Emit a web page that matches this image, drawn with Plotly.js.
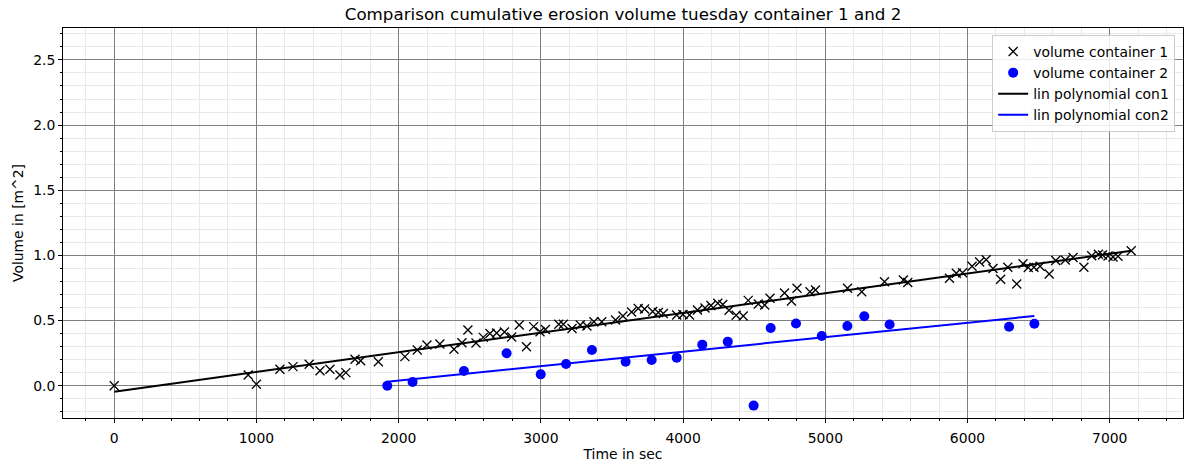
<!DOCTYPE html>
<html>
<head>
<meta charset="utf-8">
<script src="https://cdn.plot.ly/plotly-3.0.1.min.js"></script>
<style>html,body{margin:0;padding:0;background:#fff;}#chart{width:1189px;height:466px;}</style>
</head>
<body>
<div id="chart"></div>
<script>
// Container 1 (time in sec, volume)
const time1 = [0, 942, 1000, 1165, 1257, 1371, 1447, 1517, 1587, 1629, 1693, 1733, 1857, 2044, 2131, 2199, 2290, 2389, 2445, 2487, 2544, 2595, 2642, 2689, 2744, 2795, 2848, 2899, 2949, 2994, 3032, 3126, 3158, 3219, 3277, 3324, 3373, 3428, 3525, 3577, 3638, 3685, 3729, 3786, 3826, 3861, 3955, 3999, 4045, 4101, 4154, 4196, 4244, 4279, 4323, 4373, 4423, 4458, 4529, 4574, 4611, 4713, 4762, 4801, 4892, 4931, 5156, 5256, 5416, 5549, 5580, 5873, 5921, 5965, 6032, 6085, 6131, 6179, 6233, 6283, 6346, 6390, 6427, 6467, 6510, 6574, 6620, 6687, 6742, 6818, 6873, 6920, 6949, 6988, 7023, 7058, 7151];
const vol1 = [0.0, 0.082, 0.011, 0.126, 0.146, 0.164, 0.115, 0.126, 0.082, 0.100, 0.203, 0.192, 0.184, 0.223, 0.274, 0.312, 0.320, 0.279, 0.330, 0.427, 0.328, 0.371, 0.401, 0.404, 0.412, 0.374, 0.466, 0.299, 0.453, 0.414, 0.431, 0.472, 0.472, 0.439, 0.466, 0.458, 0.491, 0.491, 0.504, 0.535, 0.566, 0.592, 0.589, 0.569, 0.562, 0.554, 0.543, 0.546, 0.543, 0.581, 0.596, 0.616, 0.632, 0.623, 0.579, 0.540, 0.535, 0.655, 0.627, 0.619, 0.671, 0.711, 0.650, 0.748, 0.721, 0.734, 0.748, 0.721, 0.798, 0.811, 0.792, 0.824, 0.863, 0.867, 0.916, 0.949, 0.967, 0.899, 0.817, 0.909, 0.781, 0.936, 0.907, 0.909, 0.916, 0.857, 0.961, 0.965, 0.984, 0.909, 0.997, 1.009, 1.003, 0.995, 0.988, 0.993, 1.036];

// Container 2
const time2 = [1920, 2098, 2459, 2759, 2999, 3177, 3359, 3596, 3779, 3955, 4135, 4314, 4496, 4616, 4794, 4975, 5155, 5274, 5452, 6292, 6470];
const vol2 = [0.0, 0.028, 0.113, 0.249, 0.087, 0.167, 0.274, 0.184, 0.197, 0.215, 0.315, 0.338, -0.153, 0.443, 0.477, 0.381, 0.458, 0.533, 0.470, 0.452, 0.475];

// Linear fits (end points)
const fit1X = [0, 7151];
const fit1Y = [-0.046, 1.035];
const fit2X = [1920, 6470];
const fit2Y = [0.031, 0.535];

const yTicks = [0, 0.5, 1.0, 1.5, 2.0, 2.5];
const xTicks = [0, 1000, 2000, 3000, 4000, 5000, 6000, 7000];

const FONT = 'DejaVu Sans, sans-serif';

const traces = [
  {x: time1, y: vol1, mode: 'markers', type: 'scatter', name: 'volume container 1',
   marker: {symbol: 'x-thin-open', size: 9, color: 'black', line: {color: 'black', width: 1.3}}},
  {x: time2, y: vol2, mode: 'markers', type: 'scatter', name: 'volume container 2',
   marker: {symbol: 'circle', size: 10, color: '#0000ff'}},
  {x: fit1X, y: fit1Y, mode: 'lines', type: 'scatter', name: 'lin polynomial con1',
   line: {color: 'black', width: 2}},
  {x: fit2X, y: fit2Y, mode: 'lines', type: 'scatter', name: 'lin polynomial con2',
   line: {color: '#0000ff', width: 2}}
];

const layout = {
  width: 1189, height: 466,
  margin: {l: 63, r: 6, t: 28, b: 48},
  paper_bgcolor: 'white', plot_bgcolor: 'white',
  font: {family: FONT, size: 14, color: 'black'},
  title: {text: 'Comparison cumulative erosion volume tuesday container 1 and 2',
          font: {family: FONT, size: 16.7, color: 'black'},
          x: (63 + 1183) / 2 / 1189, xanchor: 'center', y: 0.97, yanchor: 'middle'},
  xaxis: {
    range: [-360, 7515], tickvals: xTicks, ticktext: xTicks.map(String),
    showline: true, mirror: true, linecolor: 'black', linewidth: 1,
    ticks: 'outside', ticklen: 4, tickcolor: 'black', tickwidth: 1,
    ticklabelstandoff: 3,
    showgrid: true, gridcolor: '#808080', gridwidth: 1, zeroline: false,
    minor: {dtick: 200, tick0: 0, showgrid: true, gridcolor: '#e8e8e8', gridwidth: 1, ticks: 'outside', ticklen: 2, tickcolor: 'black'},
    tickfont: {family: FONT, size: 13.9, color: 'black'},
    title: {text: 'Time in sec', font: {family: FONT, size: 13.9, color: 'black'}, standoff: 4}
  },
  yaxis: {
    range: [-0.248, 2.745], tickvals: yTicks, ticktext: yTicks.map(v => v.toFixed(1)),
    showline: true, mirror: true, linecolor: 'black', linewidth: 1,
    ticks: 'outside', ticklen: 4, tickcolor: 'black', tickwidth: 1,
    showgrid: true, gridcolor: '#808080', gridwidth: 1, zeroline: false,
    minor: {dtick: 0.1, tick0: 0, showgrid: true, gridcolor: '#e8e8e8', gridwidth: 1, ticks: 'outside', ticklen: 2, tickcolor: 'black'},
    tickfont: {family: FONT, size: 13.9, color: 'black'},
    title: {text: 'Volume in [m^2]', font: {family: FONT, size: 13.9, color: 'black'}, standoff: 6}
  },
  showlegend: true,
  legend: {x: 0.993, xanchor: 'right', y: 0.982, yanchor: 'top',
           bgcolor: 'rgba(255,255,255,0.85)', bordercolor: '#cccccc', borderwidth: 1,
           font: {family: FONT, size: 13.9, color: 'black'}}
};

Plotly.newPlot('chart', traces, layout, {displayModeBar: false, staticPlot: true});
</script>
</body>
</html>
